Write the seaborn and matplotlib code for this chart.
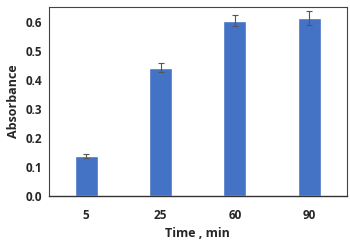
import numpy as np
import pandas as pd
import matplotlib
matplotlib.use("Agg")
import matplotlib.pyplot as plt
import seaborn as sns

# === Data === #
times = ["5", "25", "60", "90"]
absorbance = [0.138, 0.442, 0.603, 0.612]
errors = [0.008, 0.015, 0.018, 0.025]

df = pd.DataFrame({"Time": times, "Absorbance": absorbance})

sns.set_style("white")
plt.rcParams["font.family"] = ["Open Sans", "DejaVu Sans"]

fig, ax = plt.subplots(figsize=(3.5, 2.43), dpi=100)
sns.barplot(data=df, x="Time", y="Absorbance", color="#4472C4",
            saturation=1, width=0.31, errorbar=None, ax=ax)
ax.errorbar(np.arange(len(times)), absorbance, yerr=errors, fmt="none",
            ecolor="#555555", elinewidth=0.8, capsize=2, capthick=0.8)

ax.set_xlim(-0.5, 3.5)
ax.set_ylim(0, 0.65)
ax.set_yticks(np.arange(0, 0.61, 0.1))
ax.set_yticklabels([f"{v:.1f}" for v in np.arange(0, 0.61, 0.1)])
ax.tick_params(axis="both", length=0, labelsize=8.5)
ax.tick_params(axis="x", pad=9)
ax.tick_params(axis="y", pad=5)
for lbl in ax.get_xticklabels() + ax.get_yticklabels():
    lbl.set_fontweight("bold")

ax.set_xlabel("Time , min", fontsize=9, fontweight="bold", labelpad=4)
ax.set_ylabel("Absorbance", fontsize=9, fontweight="bold", labelpad=4)

for side in ["top", "right", "left"]:
    ax.spines[side].set_color("#444444")
    ax.spines[side].set_linewidth(0.8)
ax.spines["bottom"].set_color("#333333")
ax.spines["bottom"].set_linewidth(1.0)

fig.subplots_adjust(left=0.14, right=0.99, top=0.971, bottom=0.193)
fig.savefig("out.png", dpi=100)
